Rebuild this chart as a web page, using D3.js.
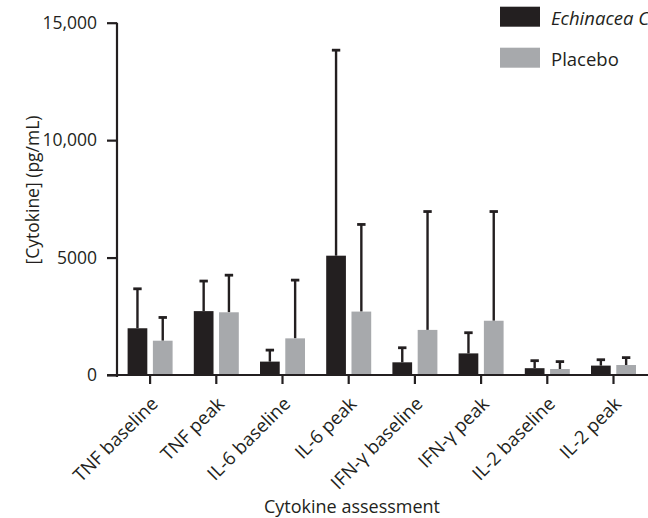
<!DOCTYPE html>
<html>
<head>
<meta charset="utf-8">
<script src="https://cdn.jsdelivr.net/npm/d3@7"></script>
<style>
  body { margin: 0; background: #fff; }
  svg { display: block; }
  text { font-family: "Open Sans", sans-serif; fill: #231f20; }
</style>
</head>
<body>
<div id="chart"></div>
<script>
// Data (pg/mL)
var categories = ["TNF baseline", "TNF peak", "IL-6 baseline", "IL-6 peak",
    "IFN-\u03b3 baseline", "IFN-\u03b3 peak", "IL-2 baseline", "IL-2 peak"];
var seriesNames = ["Echinacea C", "Placebo"];
var echinaceaMean = [1990, 2720, 570, 5080, 540, 920, 290, 400];
var echinaceaUpper = [3670, 4000, 1060, 13830, 1160, 1800, 610, 650];
var placeboMean = [1460, 2670, 1560, 2700, 1920, 2310, 255, 425];
var placeboUpper = [2450, 4250, 4040, 6410, 6960, 6960, 570, 740];
var yTicks = [0, 5000, 10000, 15000];

var width = 648, height = 518;
var colors = ["#231f20", "#a7a9ac"];
var ink = "#231f20";

var svg = d3.select("#chart")
    .append("svg")
    .attr("width", width)
    .attr("height", height);

// Scales
var x0 = d3.scaleBand().domain(categories).range([117, 646.6]).padding(0);
var x1 = d3.scaleBand().domain([0, 1]).range([-22.5, 22.5]).paddingInner(0.22);
var y = d3.scaleLinear().domain([0, 15000]).range([375, 22.7]);

var data = categories.map(function (c, i) {
    return {
        cat: c,
        values: [
            { s: 0, mean: echinaceaMean[i], upper: echinaceaUpper[i] },
            { s: 1, mean: placeboMean[i], upper: placeboUpper[i] }
        ]
    };
});

var groups = svg.selectAll("g.group")
    .data(data)
    .enter().append("g")
    .attr("class", "group")
    .attr("transform", function (d) { return "translate(" + (x0(d.cat) + x0.bandwidth() / 2) + ",0)"; });

// Error bars (upper only)
groups.selectAll("line.err")
    .data(function (d) { return d.values; })
    .enter().append("line")
    .attr("class", "err")
    .attr("x1", function (d) { return x1(d.s) + x1.bandwidth() / 2; })
    .attr("x2", function (d) { return x1(d.s) + x1.bandwidth() / 2; })
    .attr("y1", function (d) { return y(d.mean); })
    .attr("y2", function (d) { return y(d.upper); })
    .style("stroke", ink)
    .style("stroke-width", 2.4);

groups.selectAll("line.cap")
    .data(function (d) { return d.values; })
    .enter().append("line")
    .attr("class", "cap")
    .attr("x1", function (d) { return x1(d.s) + x1.bandwidth() / 2 - 4.2; })
    .attr("x2", function (d) { return x1(d.s) + x1.bandwidth() / 2 + 4.2; })
    .attr("y1", function (d) { return y(d.upper); })
    .attr("y2", function (d) { return y(d.upper); })
    .style("stroke", ink)
    .style("stroke-width", 2.8);

// Bars
groups.selectAll("rect")
    .data(function (d) { return d.values; })
    .enter().append("rect")
    .attr("x", function (d) { return x1(d.s); })
    .attr("width", x1.bandwidth())
    .attr("y", function (d) { return y(d.mean); })
    .attr("height", function (d) { return y(0) - y(d.mean); })
    .style("fill", function (d) { return colors[d.s]; });

// Y axis
var yAxis = svg.append("g")
    .attr("class", "y axis")
    .attr("transform", "translate(117,0)")
    .call(d3.axisLeft(y)
        .tickValues(yTicks)
        .tickSize(10)
        .tickSizeOuter(0)
        .tickPadding(10)
        .tickFormat(function (d) { return d === 5000 ? "5000" : d3.format(",")(d); }));
yAxis.select(".domain").remove();
yAxis.append("line")
    .attr("y1", y(15000))
    .attr("y2", y(0) + 2)
    .style("stroke", ink)
    .style("stroke-width", 2.2);
yAxis.selectAll(".tick line").style("stroke", ink).style("stroke-width", 2.2);
yAxis.selectAll("text")
    .style("font-family", "'Open Sans', sans-serif")
    .style("font-size", "17.5px")
    .style("fill", ink);

// X axis
var xAxis = svg.append("g")
    .attr("class", "x axis")
    .attr("transform", "translate(0," + y(0) + ")")
    .call(d3.axisBottom(x0).tickSize(9).tickSizeOuter(0));
xAxis.select(".domain").remove();
xAxis.append("line")
    .attr("x1", 107)
    .attr("x2", width)
    .style("stroke", ink)
    .style("stroke-width", 2.2);
xAxis.selectAll(".tick line").style("stroke", ink).style("stroke-width", 2.2);
xAxis.selectAll(".tick text")
    .attr("y", 0)
    .attr("dy", 0)
    .attr("text-anchor", "end")
    .attr("transform", "translate(9,30) rotate(-45)")
    .style("font-family", "'Open Sans', sans-serif")
    .style("font-size", "18.5px")
    .style("fill", ink);

// Axis titles
svg.append("text")
    .attr("class", "x label")
    .attr("text-anchor", "middle")
    .attr("x", 352)
    .attr("y", 513)
    .style("font-size", "18px")
    .text("Cytokine assessment");

svg.append("text")
    .attr("class", "y label")
    .attr("text-anchor", "middle")
    .attr("transform", "translate(39,190) rotate(-90)")
    .style("font-size", "17.5px")
    .text("[Cytokine] (pg/mL)");

// Legend
var legend = svg.selectAll("g.legend")
    .data(seriesNames)
    .enter().append("g")
    .attr("class", "legend")
    .attr("transform", function (d, i) { return "translate(500," + (6.7 + i * 41) + ")"; });

legend.append("rect")
    .attr("width", 40)
    .attr("height", 20)
    .style("fill", function (d, i) { return colors[i]; });

legend.append("text")
    .attr("x", 51)
    .attr("y", 18.5)
    .style("font-size", "18.5px")
    .style("font-style", function (d, i) { return i === 0 ? "italic" : "normal"; })
    .text(function (d) { return d; });
</script>
</body>
</html>
